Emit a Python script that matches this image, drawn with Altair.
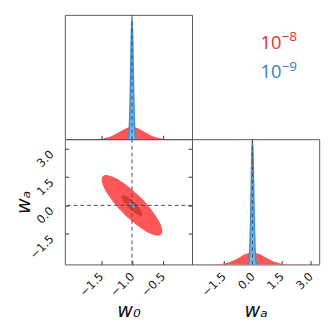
import altair as alt
import pandas as pd

# ---------------- values ----------------
# truth markers
truth_w0 = [-1.0]
truth_wa = [0.0]

# tick values
w0_ticks = [-1.5, -1.0, -0.5]
wa_ticks = [-1.5, 0.0, 1.5, 3.0]

# 1D marginal of w0 (top-left panel), heights relative to the blue peak
w0_red_x = [-1.8, -1.7, -1.6, -1.5, -1.4, -1.3, -1.2, -1.1, -1.0, -0.9, -0.8, -0.7, -0.6, -0.5, -0.4, -0.3, -0.2]
w0_red_h = [0.00003, 0.0002, 0.0011, 0.0044, 0.0135, 0.0325, 0.0607, 0.0882, 0.1, 0.0882, 0.0607, 0.0325, 0.0135, 0.0044, 0.0011, 0.0002, 0.00003]
w0_blue_x = [-1.08, -1.07, -1.06, -1.05, -1.04, -1.03, -1.02, -1.01, -1.0, -0.99, -0.98, -0.97, -0.96, -0.95, -0.94, -0.93, -0.92]
w0_blue_h = [0.0003, 0.0022, 0.0111, 0.0439, 0.1353, 0.3247, 0.6065, 0.8825, 1.0, 0.8825, 0.6065, 0.3247, 0.1353, 0.0439, 0.0111, 0.0022, 0.0003]

# 1D marginal of wa (bottom-right panel)
wa_red_x = [-2.63, -2.30, -1.97, -1.64, -1.31, -0.99, -0.66, -0.33, 0.0, 0.33, 0.66, 0.99, 1.31, 1.64, 1.97, 2.30, 2.63]
wa_red_h = [0.00003, 0.0002, 0.0011, 0.0042, 0.0130, 0.0312, 0.0582, 0.0847, 0.096, 0.0847, 0.0582, 0.0312, 0.0130, 0.0042, 0.0011, 0.0002, 0.00003]
wa_blue_x = [-0.263, -0.230, -0.197, -0.164, -0.131, -0.099, -0.066, -0.033, 0.0, 0.033, 0.066, 0.099, 0.131, 0.164, 0.197, 0.230, 0.263]
wa_blue_h = [0.0003, 0.0022, 0.0111, 0.0439, 0.1353, 0.3247, 0.6065, 0.8825, 1.0, 0.8825, 0.6065, 0.3247, 0.1353, 0.0439, 0.0111, 0.0022, 0.0003]

# 2D contours (w0 position, upper wa, lower wa)
red_outer_w0 = [-1.49, -1.4876, -1.4802, -1.4508, -1.4165, -1.392, -1.294, -1.147, -1.0, -0.853, -0.706, -0.608, -0.5835, -0.5492, -0.5198, -0.5124, -0.51]
red_outer_hi = [1.369, 1.446, 1.510, 1.591, 1.61, 1.604, 1.499, 1.220, 0.848, 0.399, -0.143, -0.586, -0.716, -0.927, -1.172, -1.277, -1.369]
red_outer_lo = [1.369, 1.277, 1.172, 0.927, 0.716, 0.586, 0.143, -0.399, -0.848, -1.220, -1.499, -1.604, -1.61, -1.591, -1.510, -1.446, -1.369]

red_inner_w0 = [-1.169, -1.168, -1.1656, -1.1555, -1.1437, -1.135, -1.101, -1.051, -1.0, -0.949, -0.899, -0.865, -0.8563, -0.8445, -0.8344, -0.832, -0.831]
red_inner_hi = [0.472, 0.498, 0.521, 0.549, 0.555, 0.553, 0.517, 0.421, 0.292, 0.138, -0.049, -0.202, -0.247, -0.319, -0.404, -0.440, -0.472]
red_inner_lo = [0.472, 0.440, 0.404, 0.319, 0.247, 0.202, 0.049, -0.138, -0.292, -0.421, -0.517, -0.553, -0.555, -0.549, -0.521, -0.498, -0.472]

blue_outer_w0 = [-1.049, -1.0417, -1.0294, -1.0, -0.9706, -0.9583, -0.951]
blue_outer_hi = [0.137, 0.161, 0.150, 0.085, -0.014, -0.072, -0.137]
blue_outer_lo = [0.137, 0.072, 0.014, -0.085, -0.150, -0.161, -0.137]

blue_inner_w0 = [-1.0169, -1.0144, -1.0101, -1.0, -0.9899, -0.9856, -0.9831]
blue_inner_hi = [0.047, 0.0555, 0.0517, 0.029, -0.0049, -0.0247, -0.047]
blue_inner_lo = [0.047, 0.0247, 0.0049, -0.029, -0.0517, -0.0555, -0.047]

# legend
legend_base = ["10", "10"]
legend_exp = ["\u22128", "\u22129"]
legend_colors = ["#e5302e", "#2b83c6"]

# ---------------- styling ----------------
RED = "#ff5757"
RED_DARK = "#d93b3b"
BLUE_FILL = "#74b6ea"
BLUE_LINE = "#3a8ed6"
BLUE2_OUT = "#5ba6e2"
BLUE2_IN = "#2c76bf"
DASH = "#4a4a4a"
AX = "#333333"

W0_DOM = [-2.087, -0.027]
WA_DOM_Y = [-3.138, 3.518]
WA_DOM_X = [-3.12, 3.45]
PW = 132
TOPH = 129
BOTH = 130


def x_parts(dom, labels, title=None, values=None):
    kw = dict(values=values, domain=False, grid=False, tickSize=4, offset=-4,
              tickColor=AX, labels=labels)
    if labels:
        kw.update(format=".1f", labelAngle=-45, labelAlign="right",
                  labelBaseline="middle", labelPadding=10)
    if title:
        kw.update(title=title, titleY=58, titleBaseline="alphabetic")
    else:
        kw.update(title=None)
    return alt.Scale(domain=dom, nice=False, zero=False), alt.Axis(**kw)


def X(field, parts):
    return alt.X(field, type="quantitative", scale=parts[0], axis=parts[1])


def dash_rule_x(vals, parts):
    d = pd.DataFrame({"v": vals})
    return alt.Chart(d).mark_rule(color=DASH, strokeDash=[4, 3], strokeWidth=1).encode(
        x=X("v", parts))


# ---------- top-left: w0 marginal ----------
pTL = x_parts(W0_DOM, labels=False, values=w0_ticks)
yTL = alt.Y("h:Q", scale=alt.Scale(domain=[0, 1.023], nice=False), axis=None)
tl_red = alt.Chart(pd.DataFrame({"x": w0_red_x, "h": w0_red_h})).mark_area(
    color=RED, interpolate="monotone").encode(x=X("x", pTL), y=yTL)
tl_blue_df = pd.DataFrame({"x": w0_blue_x, "h": w0_blue_h})
tl_blue = alt.Chart(tl_blue_df).mark_area(color=BLUE_FILL, interpolate="monotone").encode(x=X("x", pTL), y=yTL)
tl_blue_line = alt.Chart(tl_blue_df).mark_line(color=BLUE_LINE, strokeWidth=1.5, interpolate="monotone").encode(x=X("x", pTL), y=yTL)
TL = alt.layer(tl_red, tl_blue, tl_blue_line, dash_rule_x(truth_w0, pTL)).properties(width=PW, height=TOPH)

# ---------- top-right: legend ----------
leg_layers = []
ys_base = [35, 65]
ys_exp = [27, 58.5]
for i in range(len(legend_base)):
    d = pd.DataFrame({"base": [legend_base[i]], "exp": [legend_exp[i]]})
    leg_layers.append(alt.Chart(d).mark_text(
        font="Open Sans", fontSize=19, align="left", baseline="alphabetic",
        color=legend_colors[i]).encode(text="base:N", x=alt.value(71), y=alt.value(ys_base[i])))
    leg_layers.append(alt.Chart(d).mark_text(
        font="Open Sans", fontSize=14, align="left", baseline="alphabetic",
        color=legend_colors[i]).encode(text="exp:N", x=alt.value(93), y=alt.value(ys_exp[i])))
TR = alt.layer(*leg_layers).properties(width=PW, height=TOPH,
                                       view=alt.ViewBackground(stroke="transparent"))

# ---------- bottom-left: 2D contours ----------
pBL = x_parts(W0_DOM, labels=True, title="w\u2080", values=w0_ticks)


def wa_scale():
    return alt.Scale(domain=WA_DOM_Y, nice=False, zero=False)


def yBL_axis():
    return alt.Axis(values=wa_ticks, domain=False, grid=False, tickSize=4, offset=-4,
                    tickColor=AX, format=".1f", labelAngle=-45, labelAlign="right",
                    labelBaseline="middle", labelPadding=14, labelOffset=3,
                    title="w\u2090", titleX=-41, titleBaseline="alphabetic")


def ell(w0, hi, lo, color, first=False):
    d = pd.DataFrame({"w0": w0, "hi": hi, "lo": lo})
    if first:
        ye = alt.Y("hi:Q", scale=wa_scale(), axis=yBL_axis())
    else:
        ye = alt.Y("hi:Q", scale=wa_scale(), axis=None)
    return alt.Chart(d).mark_area(color=color, interpolate="monotone").encode(
        x=X("w0", pBL), y=ye, y2="lo:Q")


bl_vrule = dash_rule_x(truth_w0, pBL)
bl_hrule = alt.Chart(pd.DataFrame({"v": truth_wa})).mark_rule(
    color=DASH, strokeDash=[4, 3], strokeWidth=1).encode(
    y=alt.Y("v:Q", scale=wa_scale(),
            axis=alt.Axis(orient="right", values=wa_ticks, labels=False, title=None,
                          domain=False, grid=False, tickSize=4, offset=-4, tickColor=AX)))
BL = alt.layer(
    ell(red_outer_w0, red_outer_hi, red_outer_lo, RED, first=True),
    ell(red_inner_w0, red_inner_hi, red_inner_lo, RED_DARK),
    ell(blue_outer_w0, blue_outer_hi, blue_outer_lo, BLUE2_OUT),
    ell(blue_inner_w0, blue_inner_hi, blue_inner_lo, BLUE2_IN),
    bl_vrule, bl_hrule,
).resolve_axis(y="independent").properties(width=PW, height=BOTH)

# ---------- bottom-right: wa marginal ----------
pBR = x_parts(WA_DOM_X, labels=True, title="w\u2090", values=wa_ticks)
yBR = alt.Y("h:Q", scale=alt.Scale(domain=[0, 1.004], nice=False), axis=None)
br_red = alt.Chart(pd.DataFrame({"x": wa_red_x, "h": wa_red_h})).mark_area(
    color=RED, interpolate="monotone").encode(x=X("x", pBR), y=yBR)
br_blue_df = pd.DataFrame({"x": wa_blue_x, "h": wa_blue_h})
br_blue = alt.Chart(br_blue_df).mark_area(color=BLUE_FILL, interpolate="monotone").encode(x=X("x", pBR), y=yBR)
br_blue_line = alt.Chart(br_blue_df).mark_line(color=BLUE_LINE, strokeWidth=1.5, interpolate="monotone").encode(x=X("x", pBR), y=yBR)
BR = alt.layer(br_red, br_blue, br_blue_line, dash_rule_x(truth_wa, pBR)).properties(width=PW, height=BOTH)

chart = alt.concat(TL, TR, BL, BR, columns=2, spacing=0, bounds="flush").properties(
    padding={"left": 5, "top": 0, "right": 5, "bottom": 5}
).configure_view(stroke="#555555", strokeWidth=1).configure_axis(
    labelFont="DejaVu Sans", labelFontSize=12, labelColor="#1a1a1a",
    titleFont="DejaVu Sans", titleFontSize=20, titleFontStyle="italic",
    titleFontWeight="normal", titleColor="#111111")

chart.save("out.html", embed_options={"renderer": "svg", "actions": False})
